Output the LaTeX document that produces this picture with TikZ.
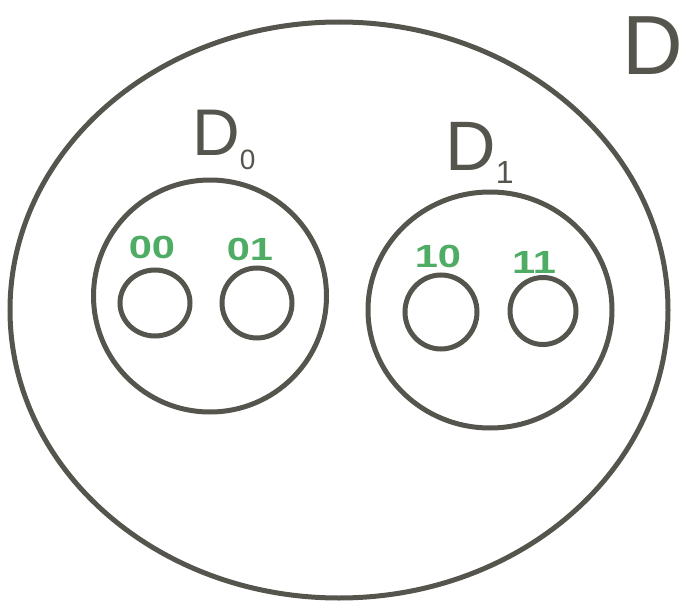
\documentclass[tikz,border=0pt]{standalone}
\usepackage{fontspec}
\setmainfont{Liberation Sans}
\usetikzlibrary{shapes.geometric}
\definecolor{pen}{RGB}{85,85,78}
\definecolor{greenpen}{RGB}{78,172,100}
\tikzset{
  set/.style={draw=pen, line width=5pt, ellipse, inner sep=0pt},
  bitlabel/.style={text=greenpen, font=\fontsize{32}{32}\selectfont\bfseries, inner sep=0pt},
  setlabel/.style={text=pen, inner sep=0pt, anchor=base west}
}
\newcommand{\wide}[1]{\scalebox{1.3}[1]{#1}}
\begin{document}
\begin{tikzpicture}[x=1pt,y=-1pt]
\useasboundingbox (0,0) rectangle (689,610);
\node[set, minimum width=658pt, minimum height=576pt] (D) at (339,310) {};
\node[set, minimum width=233pt, minimum height=232pt] (D0) at (210,296) {};
\node[set, minimum width=244pt, minimum height=236pt] (D1) at (490,310) {};
\node[set, minimum width=70pt, minimum height=66pt] (c00) at (155,303) {};
\node[set, minimum width=70pt, minimum height=70pt] (c01) at (257,303) {};
\node[set, minimum width=72pt, minimum height=74pt] (c10) at (441,312) {};
\node[set, minimum width=66pt, minimum height=67pt] (c11) at (543,311) {};
\node[setlabel, font=\fontsize{84}{84}\selectfont] (lD) at (622,75) {D};
\node[setlabel, font=\fontsize{66}{66}\selectfont] (lD0) at (192,155) {D\raisebox{-0.22em}{\fontsize{28}{28}\selectfont 0}};
\node[setlabel, font=\fontsize{70}{70}\selectfont] (lD1) at (445,170) {D\raisebox{-0.2em}{\fontsize{32}{32}\selectfont 1}};
\node[bitlabel] (t00) at (152,247) {\wide{00}};
\node[bitlabel] (t01) at (250,249) {\wide{01}};
\node[bitlabel] (t10) at (438,256) {\wide{10}};
\node[bitlabel] (t11) at (534,262) {\wide{11}};
\end{tikzpicture}
\end{document}
